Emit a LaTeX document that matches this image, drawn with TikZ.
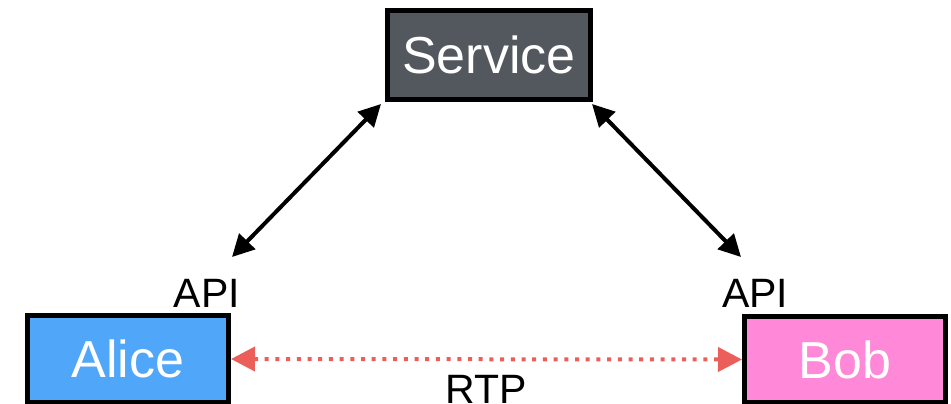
\documentclass[tikz,border=0pt]{standalone}
\usepackage{fontspec}
\setmainfont{Liberation Sans}
\usetikzlibrary{arrows.meta}

\definecolor{servicegray}{RGB}{83,87,94}
\definecolor{aliceblue}{RGB}{80,167,250}
\definecolor{bobpink}{RGB}{255,136,216}
\definecolor{rtpred}{RGB}{236,94,89}

\tikzset{
  party/.style={draw=black, line width=5pt, rectangle, inner sep=0pt,
    text=white, text depth=0pt, font=\fontsize{52}{60}\selectfont},
  apilink/.style={line width=4pt, black,
    {Triangle[length=22pt,width=22pt]}-{Triangle[length=22pt,width=22pt]}},
  rtplink/.style={line width=4pt, rtpred, dash pattern=on 4pt off 6.7pt,
    {Triangle[length=24pt,width=24pt]}-{Triangle[length=24pt,width=24pt]}},
  tag/.style={inner sep=0pt, font=\fontsize{41}{48}\selectfont}
}

\begin{document}
\begin{tikzpicture}[x=1pt,y=-1pt]
  \useasboundingbox (0,0) rectangle (951,404);

  % the three parties
  \node[party, fill=servicegray, minimum width=203pt, minimum height=89pt]
        (service) at (489,55) {Service};
  \node[party, fill=aliceblue, minimum width=201pt, minimum height=87pt]
        (alice) at (128,359) {Alice};
  \node[party, fill=bobpink, minimum width=201pt, minimum height=86pt]
        (bob) at (845,359.5) {Bob};

  % API labels
  \node[tag, anchor=base east] (apiA) at (240,307) {API};
  \node[tag, anchor=base west] (apiB) at (722,307) {API};

  % arrow end points
  \coordinate (sA) at (381,104);
  \coordinate (aA) at (232,257);
  \coordinate (sB) at (592,104);
  \coordinate (bB) at (741,257);

  % signalling links to the service
  \draw[apilink] (sA) -- (aA);
  \draw[apilink] (sB) -- (bB);

  % media link between the peers
  \draw[rtplink] (alice.east) -- (bob.west);
  \node[tag, anchor=base] (rtp) at (486,403) {RTP};
\end{tikzpicture}
\end{document}
